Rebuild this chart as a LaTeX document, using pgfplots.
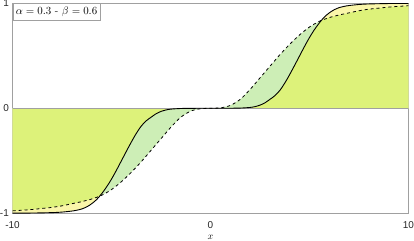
\documentclass[border=0pt]{standalone}
\usepackage{fontspec}
\newfontfamily\arialf{Liberation Sans}
\usepackage{pgfplots}
\pgfplotsset{compat=1.18}
\definecolor{limef}{RGB}{221,242,122}
\definecolor{greenf}{RGB}{205,238,182}
\definecolor{yellowf}{RGB}{250,246,170}
\definecolor{framec}{RGB}{160,160,160}
\begin{document}
\begin{tikzpicture}
\begin{axis}[
  scale only axis, width=395.5bp, height=209.5bp,
  xmin=-10, xmax=10, ymin=-1, ymax=1,
  xtick={-10,0,10}, ytick={-1,0,1},
  major tick length=0pt,
  axis line style={framec},
  tick label style={font=\arialf\fontsize{10}{12}\selectfont, black!85},
  /pgf/number format/assume math mode=true,
  xticklabel style={anchor=center, yshift=-12bp, inner sep=0pt},
  yticklabel style={anchor=east, xshift=-3.5bp, inner sep=0pt},
  xlabel={$x$}, xlabel style={at={(rel axis cs:0.5,0)}, anchor=center, yshift=-24.5bp, inner sep=1pt},
]
% green: between 0 and dashed
\addplot[draw=none, fill=greenf] coordinates {
(-10,-0.978) (-9.5,-0.972) (-9,-0.965) (-8.5,-0.955) (-8,-0.945) (-7.5,-0.93) (-7,-0.91) (-6.5,-0.89) (-6,-0.865) (-5.5,-0.83) (-5,-0.775) (-4.5,-0.70) (-4,-0.61) (-3.5,-0.51) (-3,-0.40) (-2.5,-0.29) (-2,-0.18) (-1.5,-0.085) (-1,-0.027) (-0.5,-0.004) (0,0)
(0.5,0.004) (1,0.027) (1.5,0.085) (2,0.18) (2.5,0.29) (3,0.40) (3.5,0.51) (4,0.61) (4.5,0.70) (5,0.775) (5.5,0.83) (6,0.865) (6.5,0.89) (7,0.91) (7.5,0.93) (8,0.945) (8.5,0.955) (9,0.965) (9.5,0.972) (10,0.978)
} \closedcycle;
% yellow: between 0 and solid
\addplot[draw=none, fill=yellowf] coordinates {
(-10,-1) (-9,-0.999) (-8,-0.995) (-7.5,-0.99) (-7,-0.98) (-6.75,-0.972) (-6.5,-0.96) (-6.25,-0.94) (-6,-0.91) (-5.75,-0.87) (-5.5,-0.815) (-5.25,-0.75) (-5,-0.675) (-4.75,-0.59) (-4.5,-0.50) (-4.25,-0.41) (-4,-0.322) (-3.75,-0.24) (-3.5,-0.17) (-3.25,-0.12) (-3,-0.085) (-2.75,-0.052) (-2.5,-0.03) (-2.25,-0.016) (-2,-0.008) (-1.5,-0.002) (-1,-0.0005) (-0.5,0) (0,0)
(0.5,0) (1,0.0005) (1.5,0.002) (2,0.008) (2.25,0.016) (2.5,0.03) (2.75,0.052) (3,0.085) (3.25,0.12) (3.5,0.17) (3.75,0.24) (4,0.322) (4.25,0.41) (4.5,0.50) (4.75,0.59) (5,0.675) (5.25,0.75) (5.5,0.815) (5.75,0.87) (6,0.91) (6.25,0.94) (6.5,0.96) (6.75,0.972) (7,0.98) (7.5,0.99) (8,0.995) (9,0.999) (10,1)
} \closedcycle;
% lime: between 0 and the inner curve
\addplot[draw=none, fill=limef] coordinates {
(-10,-0.978) (-9.5,-0.972) (-9,-0.965) (-8.5,-0.955) (-8,-0.945) (-7.5,-0.93) (-7,-0.91) (-6.5,-0.89) (-6,-0.865) (-5.6,-0.838) (-5.5,-0.815) (-5.25,-0.75) (-5,-0.675) (-4.75,-0.59) (-4.5,-0.50) (-4.25,-0.41) (-4,-0.322) (-3.75,-0.24) (-3.5,-0.17) (-3.25,-0.12) (-3,-0.085) (-2.75,-0.052) (-2.5,-0.03) (-2.25,-0.016) (-2,-0.008) (-1.5,-0.002) (-1,-0.0005) (-0.5,0) (0,0)
(0.5,0) (1,0.0005) (1.5,0.002) (2,0.008) (2.25,0.016) (2.5,0.03) (2.75,0.052) (3,0.085) (3.25,0.12) (3.5,0.17) (3.75,0.24) (4,0.322) (4.25,0.41) (4.5,0.50) (4.75,0.59) (5,0.675) (5.25,0.75) (5.5,0.815) (5.6,0.838) (6,0.865) (6.5,0.89) (7,0.91) (7.5,0.93) (8,0.945) (8.5,0.955) (9,0.965) (9.5,0.972) (10,0.978)
} \closedcycle;
% zero line
\addplot[framec, line width=0.6pt] coordinates {(-10,0) (10,0)};
% dashed curve
\addplot[black, line width=0.8pt, dash pattern=on 3pt off 3pt, smooth] coordinates {
(-10,-0.978) (-9.5,-0.972) (-9,-0.965) (-8.5,-0.955) (-8,-0.945) (-7.5,-0.93) (-7,-0.91) (-6.5,-0.89) (-6,-0.865) (-5.5,-0.83) (-5,-0.775) (-4.5,-0.70) (-4,-0.61) (-3.5,-0.51) (-3,-0.40) (-2.5,-0.29) (-2,-0.18) (-1.5,-0.085) (-1,-0.027) (-0.5,-0.004) (0,0)
(0.5,0.004) (1,0.027) (1.5,0.085) (2,0.18) (2.5,0.29) (3,0.40) (3.5,0.51) (4,0.61) (4.5,0.70) (5,0.775) (5.5,0.83) (6,0.865) (6.5,0.89) (7,0.91) (7.5,0.93) (8,0.945) (8.5,0.955) (9,0.965) (9.5,0.972) (10,0.978)
};
% solid curve
\addplot[black, line width=0.9pt, smooth] coordinates {
(-10,-1) (-9,-0.999) (-8,-0.995) (-7.5,-0.99) (-7,-0.98) (-6.75,-0.972) (-6.5,-0.96) (-6.25,-0.94) (-6,-0.91) (-5.75,-0.87) (-5.5,-0.815) (-5.25,-0.75) (-5,-0.675) (-4.75,-0.59) (-4.5,-0.50) (-4.25,-0.41) (-4,-0.322) (-3.75,-0.24) (-3.5,-0.17) (-3.25,-0.12) (-3,-0.085) (-2.75,-0.052) (-2.5,-0.03) (-2.25,-0.016) (-2,-0.008) (-1.5,-0.002) (-1,-0.0005) (-0.5,0) (0,0)
(0.5,0) (1,0.0005) (1.5,0.002) (2,0.008) (2.25,0.016) (2.5,0.03) (2.75,0.052) (3,0.085) (3.25,0.12) (3.5,0.17) (3.75,0.24) (4,0.322) (4.25,0.41) (4.5,0.50) (4.75,0.59) (5,0.675) (5.25,0.75) (5.5,0.815) (5.75,0.87) (6,0.91) (6.25,0.94) (6.5,0.96) (6.75,0.972) (7,0.98) (7.5,0.99) (8,0.995) (9,0.999) (10,1)
};
\node[draw=framec, fill=white, anchor=north west, inner xsep=3bp, inner ysep=3.2bp, line width=0.6pt, font=\fontsize{10.6}{12}\selectfont] at (rel axis cs:0,1) {$\alpha = 0.3$ - $\beta = 0.6$\hspace{8bp}};
\end{axis}
\end{tikzpicture}
\end{document}
